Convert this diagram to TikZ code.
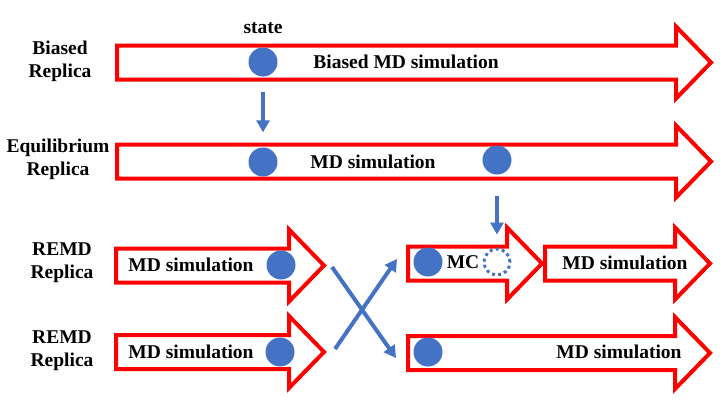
\documentclass[tikz,border=0pt]{standalone}
\usepackage{fontspec}
\setmainfont{Liberation Serif}
\usetikzlibrary{arrows.meta}
\definecolor{B}{RGB}{68,114,196}
\definecolor{R}{RGB}{255,0,0}
% #1 name, #2 tail x, #3 tip x, #4 y
\newcommand{\drawfat}[4]{
    \draw[line width=4pt, R, line join=miter] (#2,#4-17)--(#3-35,#4-17)--(#3-35,#4-36)--(#3,#4)--(#3-35,#4+36)--(#3-35,#4+17)--(#2,#4+17)--cycle;
    \coordinate (#1-tail) at (#2,#4);
    \coordinate (#1-tip) at (#3,#4);
}
\tikzset{
    statedot/.style={circle, fill=B, minimum size=29pt, inner sep=0pt},
    lbl/.style={font=\fontsize{19.5}{23}\selectfont\bfseries, align=center, inner sep=0pt},
    flow/.style={B, line width=4pt, -{Triangle[length=12pt,width=13pt]}}
}
\begin{document}
\begin{tikzpicture}[x=1pt, y=-1pt]
\useasboundingbox (0,0) rectangle (723,407);
\drawfat{bias}{117}{711}{62.5}
    \drawfat{equi}{117}{711}{161.5}
    \drawfat{remdA}{116}{324}{265.5}
    \drawfat{remdB}{116}{324}{352}
    \drawfat{mc}{408}{542}{263.5}
    \drawfat{mdA}{545}{710}{263.5}
    \drawfat{mdB}{408}{710}{353}
\node[lbl] (biasLbl) at (60,61) {Biased\\Replica};
\node[lbl] (equiLbl) at (58,159) {Equilibrium\\Replica};
\node[lbl] (remdLblA) at (62,263) {REMD\\Replica};
\node[lbl] (remdLblB) at (62,351) {REMD\\Replica};
\node[lbl] (stateLbl) at (263,28) {state};
\node[statedot] (b1) at (263,62) {};
\node[statedot] (e1) at (263,162) {};
\node[statedot] (e2) at (497,160) {};
\node[statedot] (r1) at (281,265) {};
\node[statedot] (r2) at (280,352) {};
\node[statedot] (m1) at (428,262) {};
\node[statedot] (m2) at (428,352) {};
\node[circle, draw=B, line width=3pt, dash pattern=on 3pt off 3.2pt, minimum size=26pt, inner sep=0pt] (dc) at (497,262) {};
\node[lbl] (biasTxt) at (406,62) {Biased MD simulation};
\node[lbl] (equiTxt) at (373,162) {MD simulation};
\node[lbl] (remdTxtA) at (191,265) {MD simulation};
\node[lbl] (remdTxtB) at (191,352) {MD simulation};
\node[lbl] (mcTxt) at (463,262) {MC};
\node[lbl] (mdTxtA) at (625,263) {MD simulation};
\node[lbl] (mdTxtB) at (619,352) {MD simulation};
\draw[flow, shorten <=15pt, shorten >=15pt] (b1) -- (e1);
    \draw[flow, shorten <=21pt, shorten >=13pt] (e2) -- (dc);
\coordinate (xa) at (332,267); \coordinate (xb) at (396,358);
    \coordinate (xc) at (335,349); \coordinate (xd) at (397,259);
    \draw[flow] (xa) -- (xb);
    \draw[flow] (xc) -- (xd);
\end{tikzpicture}
\end{document}
